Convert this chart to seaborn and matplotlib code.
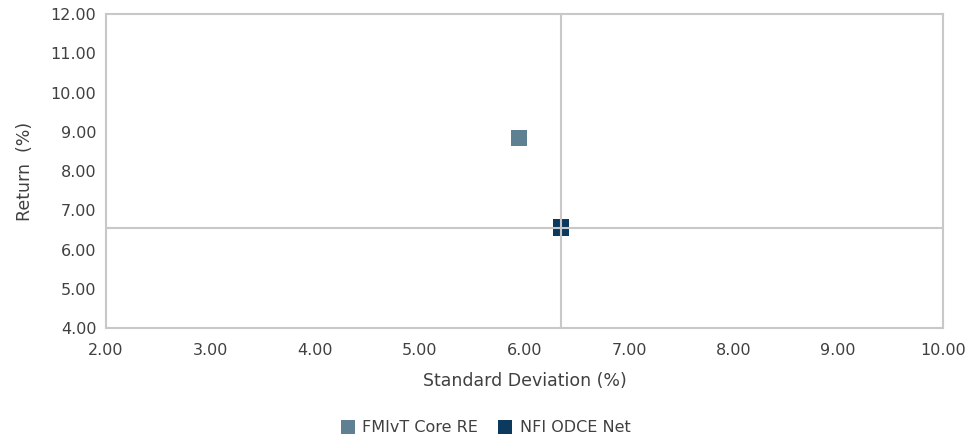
import matplotlib
matplotlib.use("Agg")
import matplotlib.pyplot as plt
import seaborn as sns
import pandas as pd

# Risk / return data
names = ["FMIvT Core RE", "NFI ODCE Net"]
std_dev = [5.95, 6.35]
returns = [8.84, 6.56]
colors = ["#5f7f93", "#0b3a5e"]

x_ticks = [2, 3, 4, 5, 6, 7, 8, 9, 10]
y_ticks = [4, 5, 6, 7, 8, 9, 10, 11, 12]

sns.set_style("white")
plt.rcParams["font.family"] = ["DejaVu Sans"]

df = pd.DataFrame({"name": names, "sd": std_dev, "ret": returns})

fig = plt.figure(figsize=(9.7, 4.4), dpi=100)
ax = fig.add_axes([0.1093, 0.2545, 0.8627, 0.7135])

sns.scatterplot(data=df, x="sd", y="ret", hue="name", palette=colors,
                marker="s", s=135, linewidth=0, ax=ax, zorder=2)

# Benchmark crosshair
bench_x, bench_y = std_dev[1], returns[1]
ax.axvline(bench_x, color="#c8c8c8", lw=1.5, zorder=3)
ax.axhline(bench_y, color="#c8c8c8", lw=1.5, zorder=3)

ax.set_xlim(x_ticks[0], x_ticks[-1])
ax.set_ylim(y_ticks[0], y_ticks[-1])
ax.set_xticks(x_ticks)
ax.set_yticks(y_ticks)
ax.set_xticklabels([f"{v:.2f}" for v in x_ticks])
ax.set_yticklabels([f"{v:.2f}" for v in y_ticks])
ax.tick_params(axis="both", length=0, labelsize=11.5, colors="#404040")
ax.tick_params(axis="x", pad=11)
ax.tick_params(axis="y", pad=7)

for side in ["left", "right", "top", "bottom"]:
    ax.spines[side].set_color("#c8c8c8")
    ax.spines[side].set_linewidth(1.5)

ax.set_xlabel("Standard Deviation (%)", fontsize=12.5, color="#404040", labelpad=10)
ax.set_ylabel("Return  (%)", fontsize=12.5, color="#404040", labelpad=12)

ax.legend_.remove()
handles, labels = ax.get_legend_handles_labels()
leg = fig.legend(handles, labels, loc="lower center", bbox_to_anchor=(0.5, -0.022),
                 ncol=2, frameon=False, fontsize=11.5, handletextpad=0.4,
                 columnspacing=1.2, markerscale=0.85, handlelength=1.0)
for t in leg.get_texts():
    t.set_color("#404040")

fig.savefig("out.png", dpi=100)
